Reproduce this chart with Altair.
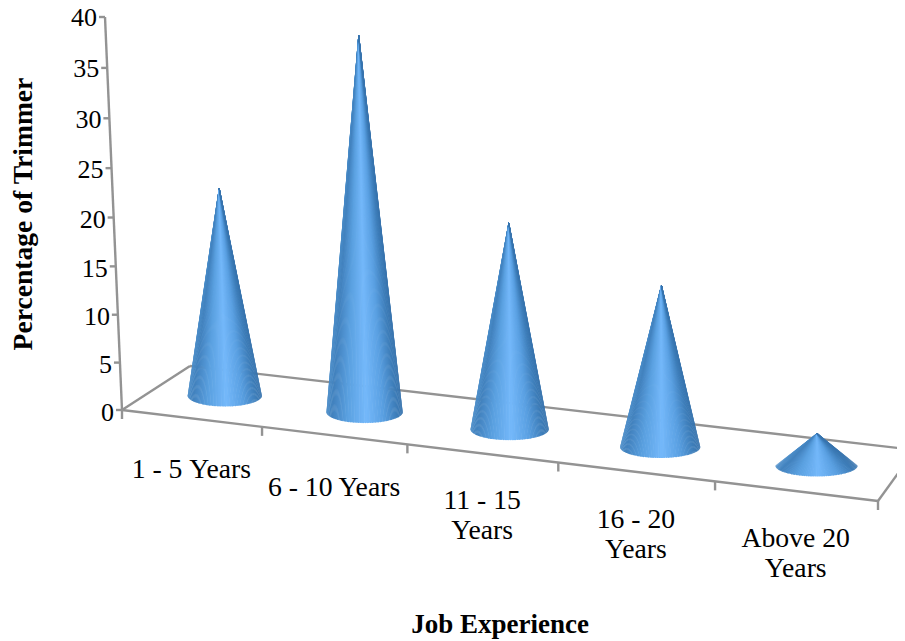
import altair as alt
import numpy as np
import pandas as pd

categories = ["1 - 5\u00a0Years", "6 - 10 Years", "11 - 15\nYears", "16 - 20\nYears", "Above 20\nYears"]
values = [20.9, 38.0, 20.8, 16.3, 3.2]
y_ticks = [0, 5, 10, 15, 20, 25, 30, 35, 40]
y_title = "Percentage of Trimmer"
x_title = "Job Experience"

FONT = "Liberation Serif"
W, H = 889, 632

# --- perspective projection of the chart's 3D box onto the page -------------
O, F, B, R = (122, 410), (878, 501), (190, 366), (915, 450)


def homography(src, dst):
    A, b = [], []
    for (u, v), (x, y) in zip(src, dst):
        A.append([u, v, 1, 0, 0, 0, -u * x, -v * x]); b.append(x)
        A.append([0, 0, 0, u, v, 1, -u * y, -v * y]); b.append(y)
    return np.append(np.linalg.solve(np.array(A, float), np.array(b, float)), 1).reshape(3, 3)


n = len(categories)
HM = homography([(0, 0), (n, 0), (0, 1), (n, 1)], [O, F, B, R])


def floor(u, v):
    u = u - 0.155 * (u / n) * (1 - u / n)
    p = HM @ np.array([u, v, 1.0])
    return p[0] / p[2], p[1] / p[2]


def wall(val):
    t = val / 40
    c = 0.04
    tp = t * (1 - c) / (1 - c * t)
    return 122 - 17 * tp, 410 - 393 * tp


# --- cones -------------------------------------------------------------------
def shade(c):
    xs = [-1.0, -0.85, -0.45, 0.05, 0.5, 0.85, 1.0]
    cols = np.array([[74, 140, 200], [66, 130, 190], [90, 160, 224], [116, 184, 250],
                     [90, 160, 226], [62, 126, 186], [56, 116, 174]], float)
    rgb = [np.interp(c, xs, cols[:, k]) for k in range(3)]
    return "#%02x%02x%02x" % tuple(int(round(v)) for v in rgb)


HEIGHT_PER_UNIT = 9.9
SLICES = 70
rows = []
for i, val in enumerate(values):
    cx, cy = floor(i + 0.5, 0.5)
    hw = 37 + 1.0 * i
    ry = 10.0
    h = val * HEIGHT_PER_UNIT
    lean = -0.035 + 0.00008 * (cx - 122)
    ax, ay = cx + lean * h, cy - h
    th = np.linspace(np.pi, 0, SLICES + 1)
    for s in range(SLICES):
        t1, t2 = th[s], th[s + 1]
        tm = (t1 + t2) / 2
        mx, my = cx + hw * np.cos(tm), cy + ry * np.sin(tm)
        width = abs(np.cos(t1) - np.cos(t2)) * hw * 1.15 + 0.3
        col = shade(np.cos(tm))
        key = f"{i}-{s:02d}"
        rows.append(dict(k=key, x=ax, y=ay, s=0.0, o=0, c=col))
        rows.append(dict(k=key, x=mx, y=my, s=width, o=1, c=col))
cones = pd.DataFrame(rows)

# --- frame lines --------------------------------------------------------------
lines = []


def seg(a, b):
    lines.append(dict(x=a[0], y=a[1], x2=b[0], y2=b[1]))


seg(floor(0, 0), floor(n, 0))
seg(floor(0, 0), floor(0, 1))
seg(floor(0, 1), floor(n, 1))
seg(floor(n, 0), floor(n, 1))
seg(wall(0), wall(40))
for v in y_ticks:
    x0, y0 = wall(v)
    seg((x0 - 6, y0), (x0, y0))
for u in range(n + 1):
    x0, y0 = floor(u, 0)
    seg((x0, y0), (x0, y0 + 9))
frame = pd.DataFrame(lines)

ytxt = pd.DataFrame([dict(x=wall(v)[0] - 8, y=wall(v)[1] + 3 - 2 * v / 40, t=str(v)) for v in y_ticks])
xtxt = pd.DataFrame([dict(x=floor(i + 0.5, 0)[0], y=floor(i + 0.5, 0)[1] + (34 if "\n" in c else 38), t=c)
                     for i, c in enumerate(categories)])

xs = alt.Scale(domain=[8, 8 + W], nice=False, zero=False)
ys = alt.Scale(domain=[8 + H, 8], nice=False, zero=False)
X = alt.X("x:Q", axis=None, scale=xs)
Y = alt.Y("y:Q", axis=None, scale=ys)

frame_layer = alt.Chart(frame).mark_rule(color="#939393", strokeWidth=2.4, clip=True).encode(
    x=X, y=Y, x2="x2:Q", y2="y2:Q")
cone_layer = alt.Chart(cones).mark_trail().encode(
    x=X, y=Y, detail="k:N",
    size=alt.Size("s:Q", scale=None),
    color=alt.Color("c:N", scale=None),
    order=alt.Order("o:Q"))
y_labels = alt.Chart(ytxt).mark_text(font=FONT, fontSize=26, align="right", baseline="middle", color="black").encode(
    x=X, y=Y, text="t:N")
x_labels = alt.Chart(xtxt).mark_text(font=FONT, fontSize=27.7, align="center", baseline="top", lineBreak="\n",
                                     lineHeight=30, color="black").encode(x=X, y=Y, text="t:N")
t1 = alt.Chart(pd.DataFrame([dict(x=24, y=214, t=y_title)])).mark_text(
    font=FONT, fontSize=27.6, fontWeight="bold", angle=270, align="center", baseline="middle", color="black"
).encode(x=X, y=Y, text="t:N")
t2 = alt.Chart(pd.DataFrame([dict(x=500, y=625, t=x_title)])).mark_text(
    font=FONT, fontSize=27, fontWeight="bold", align="center", baseline="middle", color="black"
).encode(x=X, y=Y, text="t:N")

chart = alt.layer(frame_layer, cone_layer, y_labels, x_labels, t1, t2).properties(
    width=W, height=H, background="white", padding=0,
    autosize=alt.AutoSizeParams(type="none")
).configure_view(stroke=None)

chart.save("out.html", embed_options={"renderer": "svg", "actions": False})
